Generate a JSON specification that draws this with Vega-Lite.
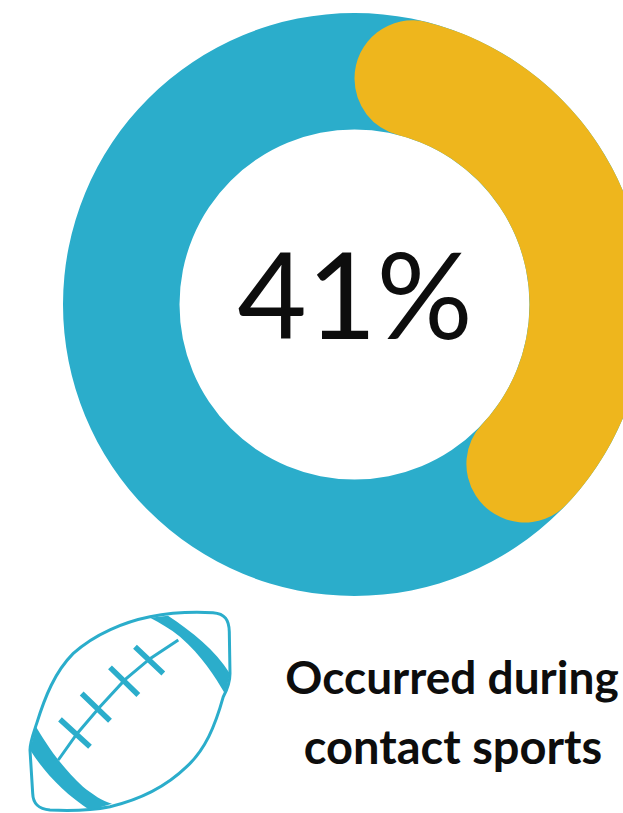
{
  "$schema": "https://vega.github.io/schema/vega-lite/v6.json",
  "width": 623,
  "height": 813,
  "padding": 0,
  "autosize": "none",
  "background": "white",
  "view": {"stroke": null},
  "datasets": {
    "shares": [
      {"group": "All injuries", "share": 1},
      {"group": "Occurred during contact sports", "share": 0.41}
    ],
    "caption": [
      {"line": "Occurred during", "row": 1},
      {"line": "contact sports", "row": 2}
    ],
    "icon": [{"name": "football"}]
  },
  "layer": [
    {
      "data": {"name": "shares"},
      "transform": [{"filter": "datum.share === 1"}],
      "mark": {"type": "arc", "outerRadius": 291.5, "innerRadius": 175, "color": "#2BADCB"},
      "encoding": {
        "x": {"datum": 354.5, "type": "quantitative", "scale": {"domain": [0, 623], "range": [0, 623], "nice": false, "zero": false}, "axis": null},
        "y": {"datum": 304.5, "type": "quantitative", "scale": {"domain": [0, 813], "range": [0, 813], "nice": false, "zero": false}, "axis": null},
        "theta": {"field": "share", "type": "quantitative", "stack": null, "scale": {"domain": [0, 1], "range": [0, 6.2832]}}
      }
    },
    {
      "data": {"name": "shares"},
      "transform": [{"filter": "datum.share < 1"}],
      "mark": {"type": "arc", "outerRadius": 291.5, "innerRadius": 175, "cornerRadius": 58, "color": "#EEB61D"},
      "encoding": {
        "x": {"datum": 354.5, "type": "quantitative", "axis": null},
        "y": {"datum": 304.5, "type": "quantitative", "axis": null},
        "theta": {"field": "share", "type": "quantitative", "stack": null, "scale": {"domain": [0, 1], "range": [0, 6.2832]}}
      }
    },
    {
      "data": {"name": "shares"},
      "transform": [{"filter": "datum.share < 1"}],
      "mark": {"type": "text", "font": "Lato", "fontSize": 120, "color": "#0D0D0D", "align": "center", "baseline": "alphabetic"},
      "encoding": {
        "x": {"datum": 355, "type": "quantitative", "axis": null},
        "y": {"datum": 339, "type": "quantitative", "axis": null},
        "text": {"field": "share", "type": "quantitative", "format": ".0%"}
      }
    },
    {
      "data": {"name": "caption"},
      "transform": [{"filter": "datum.row === 1"}],
      "mark": {"type": "text", "font": "Lato", "fontSize": 46, "fontWeight": "bold", "color": "#0D0D0D", "align": "center", "baseline": "alphabetic"},
      "encoding": {
        "x": {"datum": 452, "type": "quantitative", "axis": null},
        "y": {"datum": 694, "type": "quantitative", "axis": null},
        "text": {"field": "line"}
      }
    },
    {
      "data": {"name": "caption"},
      "transform": [{"filter": "datum.row === 2"}],
      "mark": {"type": "text", "font": "Lato", "fontSize": 47, "fontWeight": "bold", "color": "#0D0D0D", "align": "center", "baseline": "alphabetic"},
      "encoding": {
        "x": {"datum": 453, "type": "quantitative", "axis": null},
        "y": {"datum": 764, "type": "quantitative", "axis": null},
        "text": {"field": "line"}
      }
    },
    {
      "data": {"name": "icon"},
      "mark": {
        "type": "point", "filled": false, "opacity": 1, "size": 40000, "stroke": "#2BADCB", "strokeWidth": 3,
        "shape": "M0.2 -0.95 C0.4 -0.99 0.65 -1 0.83 -0.99 C0.95 -0.98 0.99 -0.92 0.993 -0.8 L1 -0.383 C1 -0.3 0.96 -0.2 0.933 -0.15 C0.85 0.15 0.75 0.38 0.567 0.55 C0.35 0.76 0.1 0.88 -0.2 0.95 C-0.4 0.99 -0.65 0.99 -0.8 0.983 C-0.92 0.97 -0.97 0.92 -0.973 0.817 L-1 0.383 C-1 0.3 -0.96 0.2 -0.933 0.117 C-0.85 -0.15 -0.75 -0.4 -0.567 -0.583 C-0.35 -0.78 -0.05 -0.9 0.2 -0.95 Z"
      },
      "encoding": {
        "x": {"datum": 130, "type": "quantitative", "axis": null},
        "y": {"datum": 711.7, "type": "quantitative", "axis": null}
      }
    },
    {
      "data": {"name": "icon"},
      "mark": {
        "type": "point", "filled": true, "opacity": 1, "size": 40000, "color": "#2BADCB", "strokeWidth": 0,
        "shape": "M0.2 -0.94 L0.38 -0.96 C0.62 -0.8 0.85 -0.62 1 -0.38 L0.95 -0.18 C0.85 -0.35 0.72 -0.56 0.5 -0.75 C0.4 -0.83 0.3 -0.89 0.2 -0.94 Z M-0.94 0.15 C-0.86 0.28 -0.72 0.52 -0.47 0.75 C-0.37 0.83 -0.28 0.89 -0.18 0.92 L-0.4 0.985 C-0.65 0.82 -0.85 0.62 -1 0.38 Z"
      },
      "encoding": {
        "x": {"datum": 130, "type": "quantitative", "axis": null},
        "y": {"datum": 711.7, "type": "quantitative", "axis": null}
      }
    },
    {
      "data": {"name": "icon"},
      "mark": {
        "type": "point", "filled": false, "opacity": 1, "size": 40000, "stroke": "#2BADCB", "strokeWidth": 3,
        "shape": "M-0.717 0.483 L-0.53 0.22 L-0.3 -0.05 L-0.05 -0.32 L0.2 -0.53 L0.483 -0.717"
      },
      "encoding": {
        "x": {"datum": 130, "type": "quantitative", "axis": null},
        "y": {"datum": 711.7, "type": "quantitative", "axis": null}
      }
    },
    {
      "data": {"name": "icon"},
      "mark": {
        "type": "point", "filled": false, "opacity": 1, "size": 40000, "stroke": "#2BADCB", "strokeWidth": 5.5,
        "shape": "M-0.7 0.077 L-0.4 0.35 M-0.483 -0.183 L-0.2 0.09 M-0.2 -0.443 L0.083 -0.167 M0.05 -0.65 L0.333 -0.383"
      },
      "encoding": {
        "x": {"datum": 130, "type": "quantitative", "axis": null},
        "y": {"datum": 711.7, "type": "quantitative", "axis": null}
      }
    }
  ]
}
